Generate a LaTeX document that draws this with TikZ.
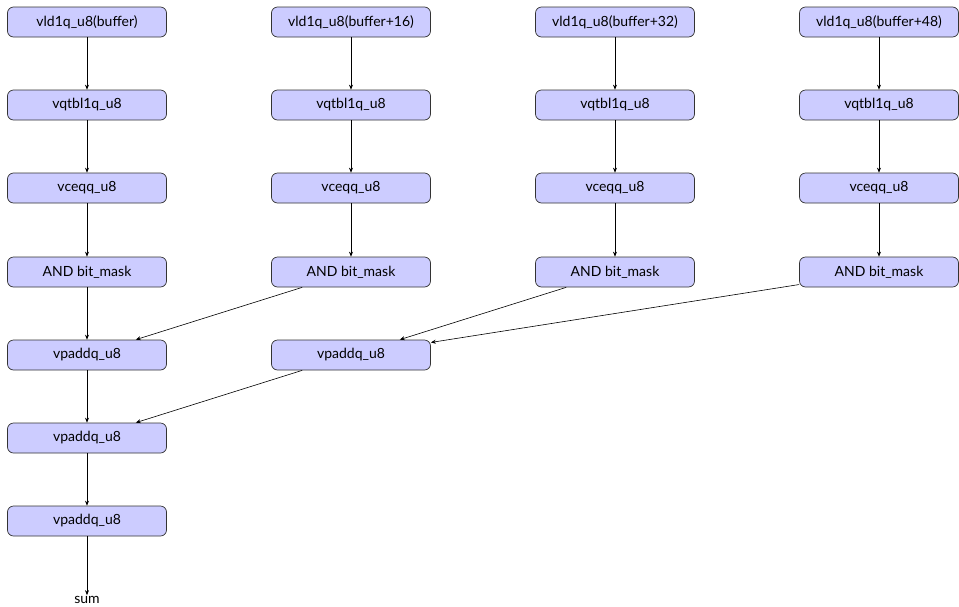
\documentclass[tikz,border=0pt]{standalone}
\usepackage{fontspec}
\setmainfont{Lato}
\usetikzlibrary{arrows.meta}
\begin{document}
\begin{tikzpicture}[x=1pt,y=-1pt,
  op/.style={draw=black!80, fill=blue!20, rounded corners=6pt, line width=0.7pt,
    minimum width=159pt, minimum height=30pt, inner sep=0pt, font=\fontsize{14}{16}\selectfont},
  lbl/.style={inner sep=1pt, font=\fontsize{14}{16}\selectfont},
  edge/.style={-{Stealth[length=5pt,width=4pt]}, line width=0.6pt}]
\useasboundingbox (0,0) rectangle (959,606);
\node[op] (l1) at (87,22) {vld1q\_u8(buffer)};
\node[op] (l2) at (351,22) {vld1q\_u8(buffer+16)};
\node[op] (l3) at (615,22) {vld1q\_u8(buffer+32)};
\node[op] (l4) at (879,22) {vld1q\_u8(buffer+48)};
\node[op] (t1) at (87,105) {vqtbl1q\_u8};
\node[op] (t2) at (351,105) {vqtbl1q\_u8};
\node[op] (t3) at (615,105) {vqtbl1q\_u8};
\node[op] (t4) at (879,105) {vqtbl1q\_u8};
\node[op] (c1) at (87,188) {vceqq\_u8};
\node[op] (c2) at (351,188) {vceqq\_u8};
\node[op] (c3) at (615,188) {vceqq\_u8};
\node[op] (c4) at (879,188) {vceqq\_u8};
\node[op] (a1) at (87,272) {AND bit\_mask};
\node[op] (a2) at (351,272) {AND bit\_mask};
\node[op] (a3) at (615,272) {AND bit\_mask};
\node[op] (a4) at (879,272) {AND bit\_mask};
\node[op] (p1) at (87,355) {vpaddq\_u8};
\node[op] (p2) at (351,355) {vpaddq\_u8};
\node[op] (p3) at (87,438) {vpaddq\_u8};
\node[op] (p4) at (87,521) {vpaddq\_u8};
\node[lbl] (sum) at (87,600) {sum};
\foreach \i in {1,2,3,4}{
  \draw[edge] (l\i) -- (t\i);
  \draw[edge] (t\i) -- (c\i);
  \draw[edge] (c\i) -- (a\i);
}
\draw[edge] (a1) -- (p1);
\draw[edge] (a2) -- (p1);
\draw[edge] (a3) -- (p2);
\draw[edge] (a4) -- (p2);
\draw[edge] (p1) -- (p3);
\draw[edge] (p2) -- (p3);
\draw[edge] (p3) -- (p4);
\draw[edge] (p4) -- (sum);
\end{tikzpicture}
\end{document}
